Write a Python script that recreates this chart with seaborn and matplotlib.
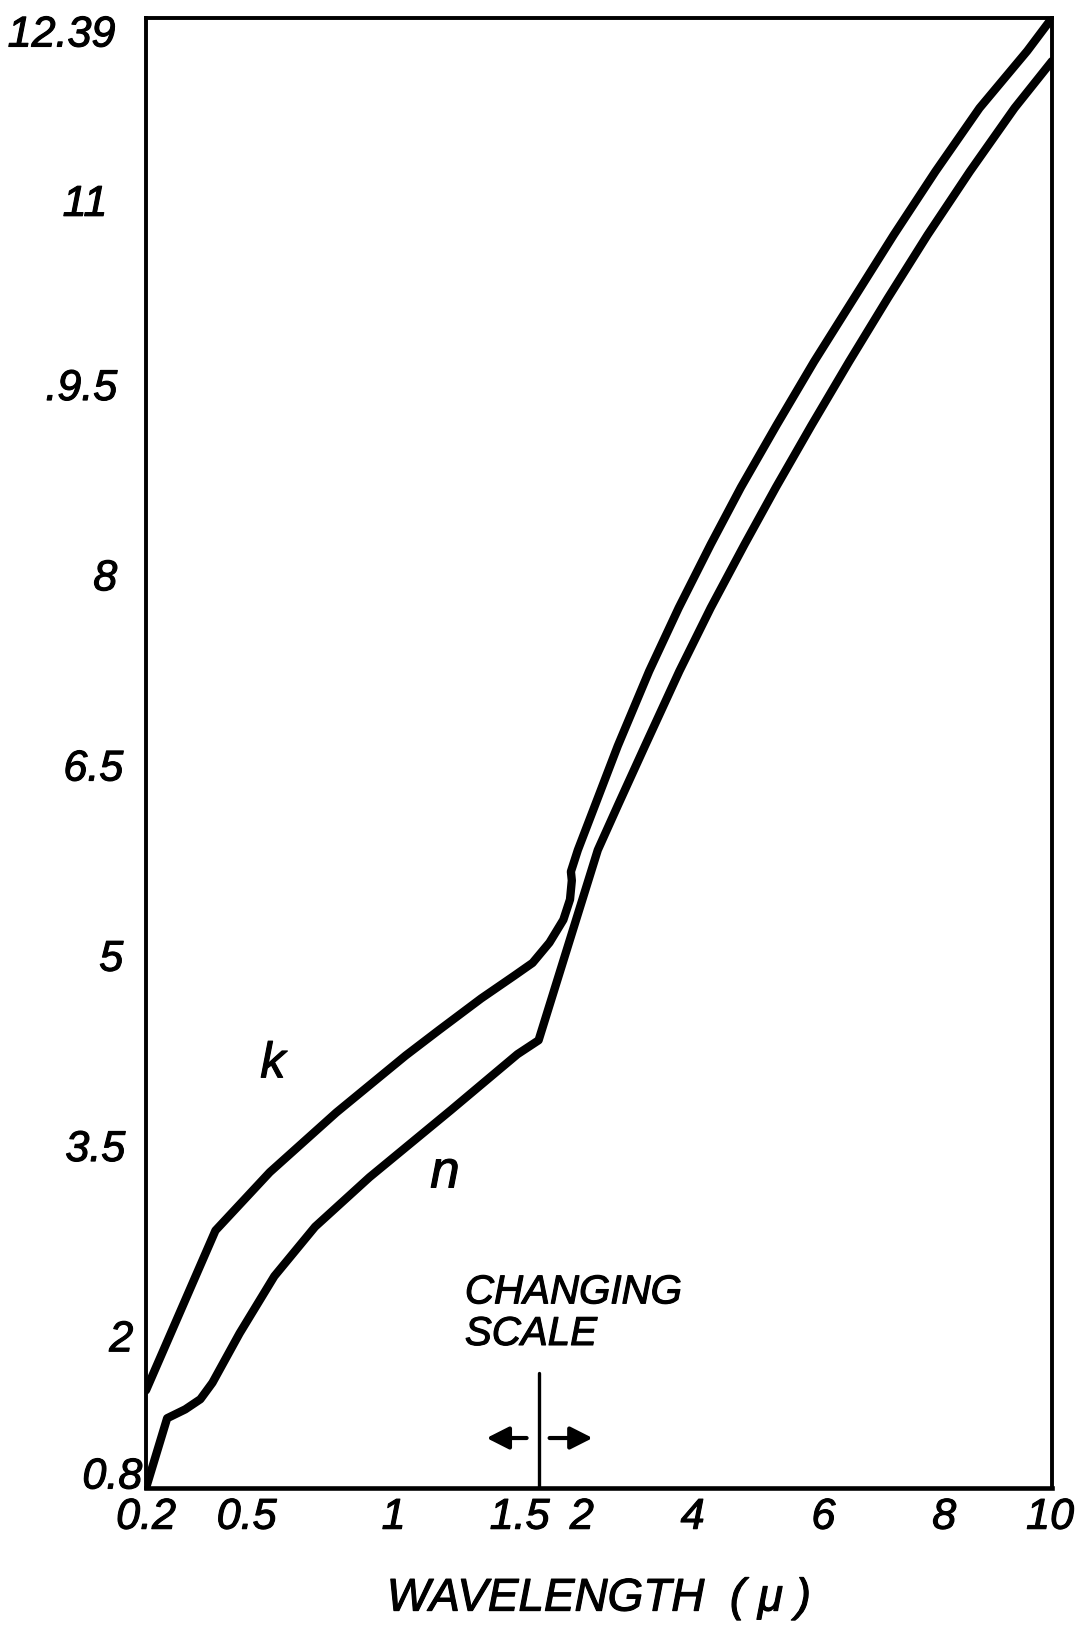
import numpy as np
import pandas as pd
import matplotlib
matplotlib.use("Agg")
import matplotlib.pyplot as plt
import matplotlib.transforms as mtransforms
import matplotlib.patheffects as pe
import seaborn as sns

# Optical constants of the material versus wavelength (micron)
k_wavelength = [0.2, 0.43, 0.61, 0.83, 1.06, 1.17, 1.31, 1.42, 1.48,
                1.68, 1.91, 2.02, 2.05, 2.035, 2.15, 2.44, 2.81, 3.33, 3.82,
                4.35, 4.85, 5.44, 6.06, 6.72, 7.38, 8.07, 8.80, 9.59, 10.0]
k_value = [1.57, 2.83, 3.29, 3.76, 4.21, 4.41, 4.66, 4.84, 4.94,
           5.10, 5.28, 5.44, 5.59, 5.66, 5.83, 6.19, 6.65, 7.24, 7.74,
           8.24, 8.69, 9.18, 9.68, 10.18, 10.68, 11.18, 11.68, 12.13, 12.39]

n_wavelength = [0.2, 0.27, 0.33, 0.38, 0.42, 0.51, 0.625, 0.76, 0.94, 1.21,
                1.43, 1.5, 2.48, 2.82, 3.26, 3.83, 4.35, 4.91, 5.43, 6.02,
                6.64, 7.28, 7.94, 8.64, 9.38, 10.0]
n_value = [0.80, 1.35, 1.42, 1.50, 1.63, 2.02, 2.47, 2.86, 3.25, 3.78,
           4.22, 4.33, 5.83, 6.19, 6.65, 7.24, 7.74, 8.24, 8.69, 9.18,
           9.68, 10.18, 10.68, 11.18, 11.68, 12.05]

x_ticks = [0.2, 0.5, 1, 1.5, 2, 4, 6, 8, 10]
x_tick_labels = ["0.2", "0.5", "1", "1.5", "2", "4", "6", "8", "10"]
y_ticks = [0.8, 2, 3.5, 5, 6.5, 8, 9.5, 11, 12.39]
y_tick_labels = ["0.8", "2", "3.5", "5", "6.5", "8", ".9.5", "11", "12.39"]

# wavelength axis changes scale at 1.5 micron: beyond it, compressed 5x
BREAK = 1.5
SQUEEZE = 5.0


def _forward(x):
    x = np.asarray(x, dtype=float)
    return np.where(x <= BREAK, x, BREAK + (x - BREAK) / SQUEEZE)


def _inverse(p):
    p = np.asarray(p, dtype=float)
    return np.where(p <= BREAK, p, BREAK + (p - BREAK) * SQUEEZE)


df = pd.concat([
    pd.DataFrame({"wavelength": k_wavelength, "value": k_value, "curve": "k"}),
    pd.DataFrame({"wavelength": n_wavelength, "value": n_value, "curve": "n"}),
], ignore_index=True)

sns.set_theme(style="white")
plt.rcParams["font.family"] = ["Liberation Sans", "DejaVu Sans"]
plt.rcParams["font.style"] = "italic"

INK = [pe.withStroke(linewidth=0.8, foreground="black")]

W, H = 1078, 1637
fig = plt.figure(figsize=(W / 100, H / 100), dpi=100)
ax = fig.add_axes([146 / W, 1 - 1488 / H, 906 / W, 1470 / H])

ax.set_xscale("function", functions=(_forward, _inverse))

sns.lineplot(data=df, x="wavelength", y="value", hue="curve",
             palette={"k": "black", "n": "black"}, units="curve",
             estimator=None, sort=False, legend=False, linewidth=6.0,
             ax=ax)
for line in ax.get_lines():
    line.set_solid_joinstyle("round")
    line.set_solid_capstyle("round")

ax.set_xlim(0.2, 10)
ax.set_ylim(0.8, 12.39)

for side in ["left", "right", "top", "bottom"]:
    ax.spines[side].set_color("black")
    ax.spines[side].set_linewidth(2.8)
ax.spines["bottom"].set_linewidth(3.3)

ax.set_xticks(x_ticks)
ax.set_xticklabels(x_tick_labels)
ax.set_yticks(y_ticks)
ax.set_yticklabels(y_tick_labels)
ax.tick_params(axis="both", direction="in", colors="black", width=2.6,
               labelsize=31, labelcolor="black")
ax.tick_params(axis="y", length=12, pad=15)
ax.tick_params(axis="x", length=9.5, pad=7)
ax.grid(False)

ax.set_xlabel("WAVELENGTH  ( \u03bc )", fontsize=33, labelpad=28,
              color="black", path_effects=INK)
ax.set_ylabel("")

# curve names
ax.text(0.62, 4.14, "k", fontsize=36, ha="center", va="center",
        color="black", path_effects=INK)
ax.text(1.19, 3.28, "n", fontsize=38, ha="center", va="center",
        color="black", path_effects=INK)

# scale-change marker on the wavelength axis
ax.axvline(BREAK, ymin=0, ymax=0.078, color="black", linewidth=2.4)
ax.text(0.352, 0.146, "CHANGING\nSCALE", transform=ax.transAxes,
        fontsize=29, ha="left", va="top", linespacing=1.12, color="black",
        path_effects=INK)

xt = ax.get_xaxis_transform()
arrow_kw = dict(arrowstyle="-|>,head_length=0.75,head_width=0.38",
                color="black", lw=3.0, mutation_scale=18,
                shrinkA=0, shrinkB=0)
ax.annotate("", xy=(BREAK, 0.034), xytext=(BREAK, 0.034),
            xycoords=mtransforms.offset_copy(xt, fig=fig, x=-52, units="dots"),
            textcoords=mtransforms.offset_copy(xt, fig=fig, x=-12, units="dots"),
            arrowprops=arrow_kw)
ax.annotate("", xy=(BREAK, 0.034), xytext=(BREAK, 0.034),
            xycoords=mtransforms.offset_copy(xt, fig=fig, x=54, units="dots"),
            textcoords=mtransforms.offset_copy(xt, fig=fig, x=11, units="dots"),
            arrowprops=arrow_kw)


# nudge tick labels the way they are lettered (offsets in pixels)
def _shift(label, dx, dy):
    label.set_transform(label.get_transform() +
                        mtransforms.ScaledTranslation(dx / 100, dy / 100,
                                                      fig.dpi_scale_trans))
    label.set_path_effects(INK)


x_nudge = [(0, 0), (10, 0), (6, 0), (-19, 0), (13, 0), (3, 0), (13, 0), (13, 0), (-2, 0)]
y_nudge = [(17, 15), (8, 0), (0, 0), (-2, 0), (-2, 0), (-8, 0), (-8, 0), (-18, -6), (-10, -13)]
for lab, (dx, dy) in zip(ax.get_xticklabels(), x_nudge):
    _shift(lab, dx, dy)
for lab, (dx, dy) in zip(ax.get_yticklabels(), y_nudge):
    _shift(lab, dx, dy)

fig.savefig("out.png", dpi=100, facecolor="white")
